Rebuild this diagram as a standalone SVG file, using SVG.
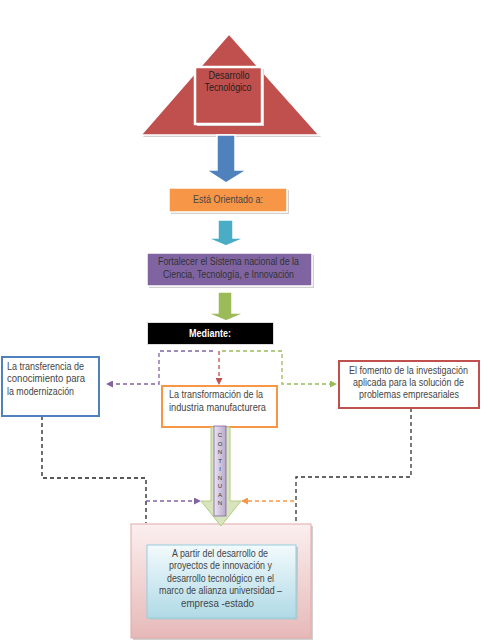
<svg xmlns="http://www.w3.org/2000/svg" width="489" height="640" viewBox="0 0 489 640">
<style>
text{font-family:"Liberation Sans",Arial,sans-serif;font-size:10px;fill:#454545}
.c{text-anchor:middle}
text.v{font-size:6px;text-anchor:middle;fill:#333}
.dash{fill:none;stroke-width:1.3;stroke-dasharray:4 3}
.sh{fill:#d0d0d0}
</style>
<defs>
<marker id="mP" markerWidth="7" markerHeight="7" refX="6" refY="3.5" orient="auto" markerUnits="userSpaceOnUse"><path d="M0,0 L7,3.5 L0,7 Z" fill="#8064A2"/></marker>
<marker id="mR" markerWidth="7" markerHeight="7" refX="6" refY="3.5" orient="auto" markerUnits="userSpaceOnUse"><path d="M0,0 L7,3.5 L0,7 Z" fill="#C0504D"/></marker>
<marker id="mG" markerWidth="7" markerHeight="7" refX="6" refY="3.5" orient="auto" markerUnits="userSpaceOnUse"><path d="M0,0 L7,3.5 L0,7 Z" fill="#9BBB59"/></marker>
<marker id="mO" markerWidth="7" markerHeight="7" refX="6" refY="3.5" orient="auto" markerUnits="userSpaceOnUse"><path d="M0,0 L7,3.5 L0,7 Z" fill="#F79646"/></marker>
<linearGradient id="gPink" x1="0" y1="0" x2="0" y2="1"><stop offset="0" stop-color="#FBEFEF"/><stop offset="1" stop-color="#E6B9B8"/></linearGradient>
<linearGradient id="gCyan" x1="0" y1="0" x2="0" y2="1"><stop offset="0" stop-color="#F2FAFC"/><stop offset="1" stop-color="#B0DAE6"/></linearGradient>
<linearGradient id="gPur" x1="0" y1="0" x2="1" y2="0"><stop offset="0" stop-color="#EAE5F0"/><stop offset="1" stop-color="#B7A7CB"/></linearGradient>
</defs>

<g id="desarrollo">
<polygon points="230,36 143,137 321,137" class="sh"/>
<polygon points="229,34 141,135 319,135" fill="#C0504D" stroke="#fff" stroke-width="1.5"/>
<rect x="197" y="69" width="67" height="57" class="sh"/>
<rect x="195" y="67" width="67" height="57" fill="#C0504D" stroke="#fff" stroke-width="2.5"/>
<text class="c" x="229" y="79" style="fill:#222" textLength="41" lengthAdjust="spacingAndGlyphs">Desarrollo</text>
<text class="c" x="228" y="91" style="fill:#222" textLength="47" lengthAdjust="spacingAndGlyphs">Tecnológico</text>
</g>

<g id="arrow1">
<path d="M217,135 L235,135 L235,170 L247,170 L226,183 L206,170 L217,170 Z" fill="#4F81BD" stroke="#fff" stroke-width="1.5"/>
</g>

<g id="orientado">
<rect x="171" y="190" width="118" height="24" class="sh"/>
<rect x="169" y="188" width="118" height="24" fill="#F79646" stroke="#fff" stroke-width="1.5"/>
<text class="c" x="228" y="203" textLength="70" lengthAdjust="spacingAndGlyphs">Está Orientado a:</text>
</g>

<g id="arrow2">
<path d="M218,220 L233,220 L233,238 L245,238 L226,246 L207,238 L218,238 Z" fill="#4BACC6" stroke="#fff" stroke-width="1.5"/>
</g>

<g id="fortalecer">
<rect x="149" y="255" width="165" height="33" class="sh"/>
<rect x="147" y="253" width="165" height="33" fill="#8064A2" stroke="#fff" stroke-width="1.5"/>
<text class="c" x="228.5" y="265" textLength="141" lengthAdjust="spacingAndGlyphs" style="fill:#333">Fortalecer el Sistema nacional de la</text>
<text class="c" x="228.5" y="278" textLength="131" lengthAdjust="spacingAndGlyphs" style="fill:#333">Ciencia, Tecnología, e Innovación</text>
</g>

<g id="arrow3">
<path d="M218,292 L232,292 L232,313 L245,313 L226,321 L207,313 L218,313 Z" fill="#9BBB59" stroke="#fff" stroke-width="1.5"/>
</g>

<g id="mediante">
<rect x="147" y="322" width="127" height="23" fill="#ddd"/>
<rect x="148" y="323" width="125" height="21" fill="#000"/>
<text class="c" x="210" y="337" style="fill:#fff;font-weight:bold" textLength="42" lengthAdjust="spacingAndGlyphs">Mediante:</text>
</g>

<g id="connectors">
<polyline class="dash" stroke="#8064A2" points="213,351 159,351 159,384 107,384" marker-end="url(#mP)"/>
<polyline class="dash" stroke="#C0504D" points="219,351 219,384" marker-end="url(#mR)"/>
<polyline class="dash" stroke="#9BBB59" points="222,351 282,351 282,384 336,384" marker-end="url(#mG)"/>
<polyline class="dash" stroke="#222" points="42,416 42,478 146,478 146,523"/>
<polyline class="dash" stroke="#8064A2" points="146,501 200,501" marker-end="url(#mP)"/>
<polyline class="dash" stroke="#333" points="411,408 411,477 296,477 296,523"/>
<polyline class="dash" stroke="#F79646" points="294,501 242,501" marker-end="url(#mO)"/>
</g>

<g id="transformacion">
<rect x="162" y="386" width="115" height="41" fill="#fff" stroke="#F79646" stroke-width="2"/>
<text x="169" y="398" textLength="94" lengthAdjust="spacingAndGlyphs">La transformación de la</text>
<text x="169" y="411" textLength="97" lengthAdjust="spacingAndGlyphs">industria manufacturera</text>
</g>

<g id="transferencia">
<rect x="2" y="357" width="97" height="59" fill="#fff" stroke="#4F81BD" stroke-width="2"/>
<text x="7" y="369.5" textLength="77" lengthAdjust="spacingAndGlyphs">La transferencia de</text>
<text x="7" y="382" textLength="78" lengthAdjust="spacingAndGlyphs">conocimiento  para</text>
<text x="7" y="394.5" textLength="67" lengthAdjust="spacingAndGlyphs">la modernización</text>
</g>

<g id="fomento">
<rect x="339" y="361" width="140" height="47" fill="#fff" stroke="#C0504D" stroke-width="2"/>
<text class="c" x="408.5" y="373.5" textLength="119" lengthAdjust="spacingAndGlyphs">El fomento de la investigación</text>
<text class="c" x="408.5" y="386" textLength="111" lengthAdjust="spacingAndGlyphs">aplicada para la solución de</text>
<text class="c" x="409" y="398" textLength="100" lengthAdjust="spacingAndGlyphs">problemas empresariales</text>
</g>

<g id="resultado">
<rect x="133" y="526" width="180" height="114" class="sh"/>
<rect x="131" y="524" width="180" height="114" fill="url(#gPink)" stroke="#E0A9A8" stroke-width="1"/>
<rect x="149" y="547" width="149" height="73" fill="#c8c8c8"/>
<rect x="147" y="545" width="149" height="73" fill="url(#gCyan)" stroke="#93CDDD" stroke-width="1"/>
<text class="c" x="220" y="556.5" textLength="96" lengthAdjust="spacingAndGlyphs">A partir del desarrollo de</text>
<text class="c" x="220.5" y="569" textLength="103" lengthAdjust="spacingAndGlyphs">proyectos de innovación y</text>
<text class="c" x="220.5" y="581.5" textLength="107" lengthAdjust="spacingAndGlyphs">desarrollo tecnológico en el</text>
<text class="c" x="220.5" y="594" textLength="123" lengthAdjust="spacingAndGlyphs">marco de alianza universidad –</text>
<text class="c" x="217.5" y="606.5" textLength="73" lengthAdjust="spacingAndGlyphs">empresa -estado</text>
</g>

<g id="continuan">
<path d="M211,427 L230,427 L230,501 L241,501 L221,526 L201,501 L211,501 Z" fill="#D7E4BD" stroke="#B3CC82" stroke-width="1"/>
<rect x="214" y="426" width="12" height="90" fill="url(#gPur)" stroke="#8064A2" stroke-width="0.8"/>
<text class="v" x="220" y="437">C</text>
<text class="v" x="220" y="445.5">O</text>
<text class="v" x="220" y="454">N</text>
<text class="v" x="220" y="463">T</text>
<text class="v" x="220" y="471">I</text>
<text class="v" x="220" y="479.5">N</text>
<text class="v" x="220" y="488">U</text>
<text class="v" x="220" y="496.5">A</text>
<text class="v" x="220" y="505">N</text>
</g>
</svg>
